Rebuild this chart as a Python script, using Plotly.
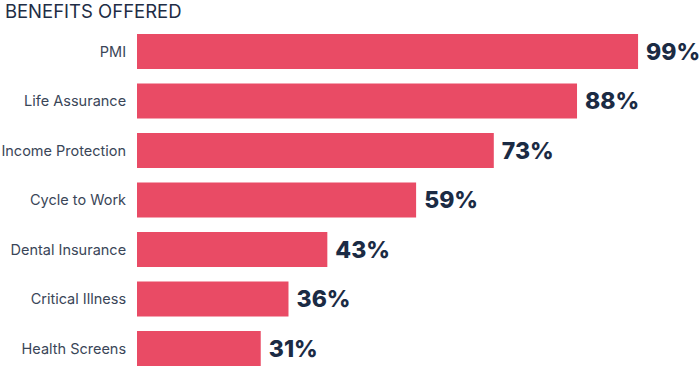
import plotly.graph_objects as go

categories = ["PMI", "Life Assurance", "Income Protection", "Cycle to Work",
              "Dental Insurance", "Critical Illness", "Health Screens"]
values = [99, 88, 73, 59, 43, 36, 31]
title_text = "BENEFITS OFFERED"

# bottom-to-top order for plotting
cats_plot = categories[::-1]
vals_plot = values[::-1]

fig = go.Figure(go.Bar(
    x=vals_plot,
    y=cats_plot,
    orientation="h",
    marker=dict(color="#E94B65", line=dict(width=0)),
    text=[f"{v}%" for v in vals_plot],
    texttemplate=" %{text}",
    textposition="outside",
    constraintext="none",
    cliponaxis=False,
    textfont=dict(family="Inter", size=23, color="#1B2B44", weight=800),
    hoverinfo="skip",
))

fig.update_layout(
    width=700, height=368,
    margin=dict(l=137, r=0, t=27, b=0, autoexpand=False),
    paper_bgcolor="white", plot_bgcolor="white",
    bargap=0.29,
    showlegend=False,
    title=dict(text=title_text, x=0.007, xanchor="left", y=0.97, yanchor="middle",
               font=dict(family="Inter", size=18.5, color="#1E2D45", weight=400)),
    xaxis=dict(range=[8.70, 110.16], visible=False, fixedrange=True),
    yaxis=dict(type="category", categoryorder="array", categoryarray=cats_plot,
               range=[-0.394, 6.495], showgrid=False, zeroline=False, showline=False,
               automargin=False, fixedrange=True,
               ticks="outside", ticklen=7, tickcolor="rgba(0,0,0,0)",
               tickfont=dict(family="Inter", size=14.5, color="#3A4658")),
)

fig.write_html("out.html",
               config={"displayModeBar": False, "staticPlot": True},
               post_script="document.body.style.margin='0';document.body.style.overflow='hidden';")
